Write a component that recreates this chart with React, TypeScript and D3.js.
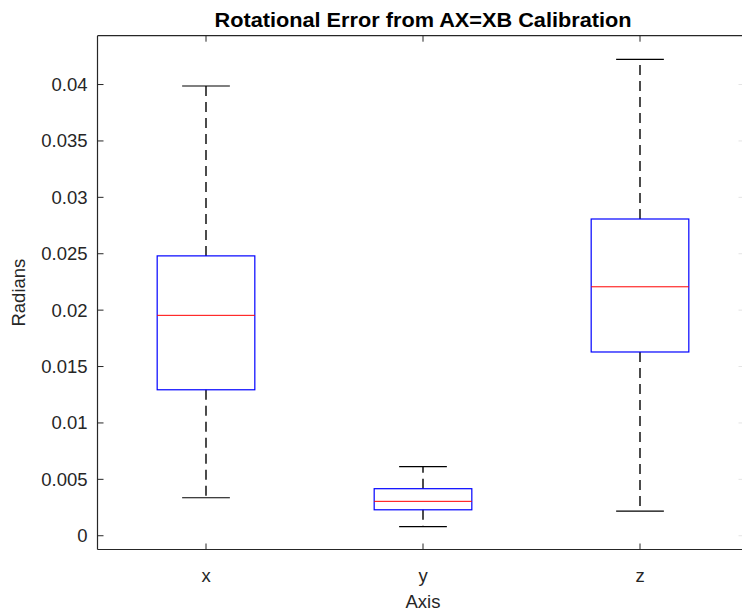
import React from "react";
import * as d3 from "d3";

const categories = ["x", "y", "z"];
const lowerWhisker = [0.00337, 0.0008, 0.00219];
const q1 = [0.01294, 0.0023, 0.01629];
const medians = [0.01954, 0.00305, 0.02207];
const q3 = [0.02481, 0.00417, 0.02808];
const upperWhisker = [0.03987, 0.00612, 0.04223];
const yTicks = [0, 0.005, 0.01, 0.015, 0.02, 0.025, 0.03, 0.035, 0.04];
const yTickLabels = ["0", "0.005", "0.01", "0.015", "0.02", "0.025", "0.03", "0.035", "0.04"];

const W = 742;
const H = 614;
const FONT = "'Liberation Sans', Arial, Helvetica, sans-serif";
const AX = "#262626";

export default function App() {
  const x = d3.scaleLinear().domain([0.5, 3.5]).range([97.5, 748.5]);
  const y = d3.scaleLinear().domain([-0.00122, 0.04433]).range([549.5, 35.7]);
  const left = x(0.5);
  const right = x(3.5);
  const top = y(0.04433);
  const bottom = y(-0.00122);
  const boxHalf = x(1.225) - x(1);
  const capHalf = x(1.11) - x(1);
  const tickLen = 6;

  return (
    <svg
      width={W}
      height={H}
      style={{ position: "absolute", left: 0, top: 0, background: "#fff" }}
      fontFamily={FONT}
    >
      <rect x={0} y={0} width={W} height={H} fill="#fff" />
      {/* axes */}
      <line x1={left} x2={left} y1={top} y2={bottom} stroke={AX} strokeWidth={1.2} />
      <line x1={left} x2={right} y1={bottom} y2={bottom} stroke={AX} strokeWidth={1.2} />
      <line x1={left} x2={right} y1={top} y2={top} stroke={AX} strokeWidth={1.2} />
      <line x1={right} x2={right} y1={top} y2={bottom} stroke={AX} strokeWidth={1.2} />

      {/* y ticks */}
      {yTicks.map((t, i) => (
        <g key={"yt" + i}>
          <line x1={left} x2={left + tickLen} y1={y(t)} y2={y(t)} stroke={AX} strokeWidth={1} />
          <line x1={right - 10} x2={right - 6} y1={y(t)} y2={y(t)} stroke="#e4e4e4" strokeWidth={1} />
          <text
            x={left - 10}
            y={y(t)}
            textAnchor="end"
            dominantBaseline="central"
            fontSize={18.5}
            fill={AX}
          >
            {yTickLabels[i]}
          </text>
        </g>
      ))}

      {/* x ticks */}
      {categories.map((c, i) => (
        <g key={"xt" + i}>
          <line x1={x(i + 1)} x2={x(i + 1)} y1={bottom} y2={bottom - tickLen} stroke={AX} strokeWidth={1} />
          <line x1={x(i + 1)} x2={x(i + 1)} y1={top} y2={top + tickLen} stroke={AX} strokeWidth={1} />
          <text x={x(i + 1)} y={575} textAnchor="middle" dominantBaseline="central" fontSize={18.5} fill={AX}>
            {c}
          </text>
        </g>
      ))}

      {/* boxes */}
      {categories.map((c, i) => {
        const cx = x(i + 1);
        return (
          <g key={"box" + i}>
            <line x1={cx} x2={cx} y1={y(q3[i])} y2={y(upperWhisker[i])} stroke="#000" strokeWidth={1.4} strokeDasharray="10,6" />
            <line x1={cx} x2={cx} y1={y(q1[i])} y2={y(lowerWhisker[i])} stroke="#000" strokeWidth={1.4} strokeDasharray="10,6" />
            <line x1={cx - capHalf} x2={cx + capHalf} y1={y(upperWhisker[i])} y2={y(upperWhisker[i])} stroke="#000" strokeWidth={1.2} />
            <line x1={cx - capHalf} x2={cx + capHalf} y1={y(lowerWhisker[i])} y2={y(lowerWhisker[i])} stroke="#000" strokeWidth={1.2} />
            <rect
              x={cx - boxHalf}
              y={y(q3[i])}
              width={boxHalf * 2}
              height={y(q1[i]) - y(q3[i])}
              fill="none"
              stroke="#0000ff"
              strokeWidth={1.2}
            />
            <line x1={cx - boxHalf} x2={cx + boxHalf} y1={y(medians[i])} y2={y(medians[i])} stroke="#ff0000" strokeWidth={1} />
          </g>
        );
      })}

      {/* labels */}
      <text
        x={(left + right) / 2}
        y={27}
        textAnchor="middle"
        fontSize={20}
        fontWeight="bold"
        fill="#000"
        textLength={417}
        lengthAdjust="spacingAndGlyphs"
      >
        Rotational Error from AX=XB Calibration
      </text>
      <text x={(97.5 + 748.5) / 2} y={601} textAnchor="middle" dominantBaseline="central" fontSize={18.5} fill={AX}>
        Axis
      </text>
      <text
        transform={`translate(18,${(top + bottom) / 2}) rotate(-90)`}
        textAnchor="middle"
        dominantBaseline="central"
        fontSize={18.5}
        fill={AX}
      >
        Radians
      </text>
    </svg>
  );
}
